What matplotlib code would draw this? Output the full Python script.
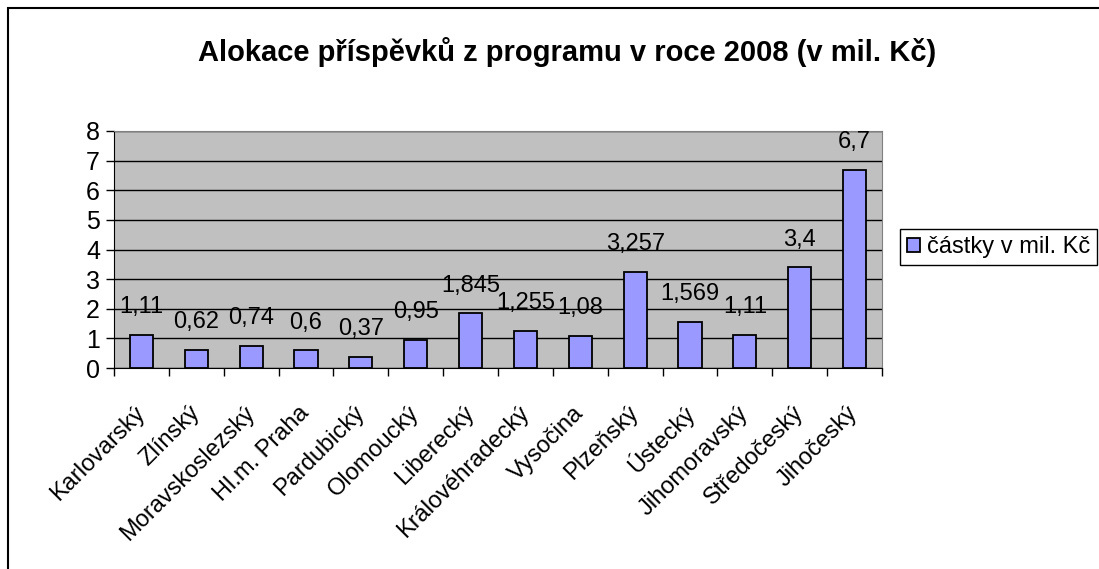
import matplotlib
matplotlib.use("Agg")
import matplotlib.pyplot as plt
import numpy as np
from matplotlib.patches import Rectangle

plt.rcParams['font.family'] = ['Liberation Sans', 'DejaVu Sans']

# Data
regions = ["Karlovarský", "Zlínský", "Moravskoslezský", "Hl.m. Praha", "Pardubický",
           "Olomoucký", "Liberecký", "Královéhradecký", "Vysočina", "Plzeňský",
           "Ústecký", "Jihomoravský", "Středočeský", "Jihočeský"]
amounts = [1.11, 0.62, 0.74, 0.6, 0.37, 0.95, 1.845, 1.255, 1.08, 3.257, 1.569, 1.11, 3.4, 6.7]
series_name = "částky v mil. Kč"
title = "Alokace příspěvků z programu v roce 2008 (v mil. Kč)"

fig = plt.figure(figsize=(10.99, 5.69), dpi=100)
ax = fig.add_axes([114/1099, 1 - 368/569, (882-114)/1099, (368-131)/569])

x = np.arange(len(regions))
ax.set_facecolor("#C0C0C0")
ax.bar(x, amounts, width=0.42, color="#9999FF", edgecolor="black", linewidth=1.3,
       label=series_name, zorder=3)

# value labels with comma as decimal separator
for xi, v in zip(x, amounts):
    ax.annotate(str(v).replace(".", ","), (xi, v), xytext=(0, 12), textcoords="offset points",
                ha="center", va="bottom", fontsize=17)

ax.set_xlim(-0.5, len(regions) - 0.5)
ax.set_ylim(0, 8)
ax.set_yticks(range(0, 9))
ax.tick_params(axis="y", labelsize=18, direction="out", length=6, width=1, pad=4)
ax.yaxis.grid(True, color="black", linewidth=1, zorder=1)
ax.set_axisbelow(True)

# ticks between categories, labels at category centres
ax.set_xticks(np.arange(-0.5, len(regions)), minor=False)
ax.set_xticklabels([])
ax.set_xticks(x, minor=True)
ax.set_xticklabels(regions, minor=True, rotation=45, ha="right", va="center",
                   rotation_mode="anchor", fontsize=17)
ax.tick_params(axis="x", which="major", direction="out", length=6, width=1, color="black")
ax.tick_params(axis="x", which="minor", length=0, pad=30)

for side in ["top", "right"]:
    ax.spines[side].set_color("#808080")
for side in ["left", "bottom"]:
    ax.spines[side].set_color("black")

fig.text(567/1099, 1 - 52/569, title, ha="center", va="center", fontsize=21, fontweight="bold")

leg = fig.legend(loc="upper left", bbox_to_anchor=(900/1099, 1 - 229/569), fontsize=17,
                 fancybox=False, edgecolor="black", framealpha=1, handlelength=0.55,
                 handleheight=0.55, handletextpad=0.3, borderpad=0.3, borderaxespad=0)
leg.get_frame().set_linewidth(1)

# outer chart border
fig.patches.append(Rectangle((8/1099, -0.1), 1.2, 1 - 8/569 + 0.1, transform=fig.transFigure,
                             fill=False, edgecolor="black", linewidth=1.5))

fig.savefig("out.png", dpi=100)
